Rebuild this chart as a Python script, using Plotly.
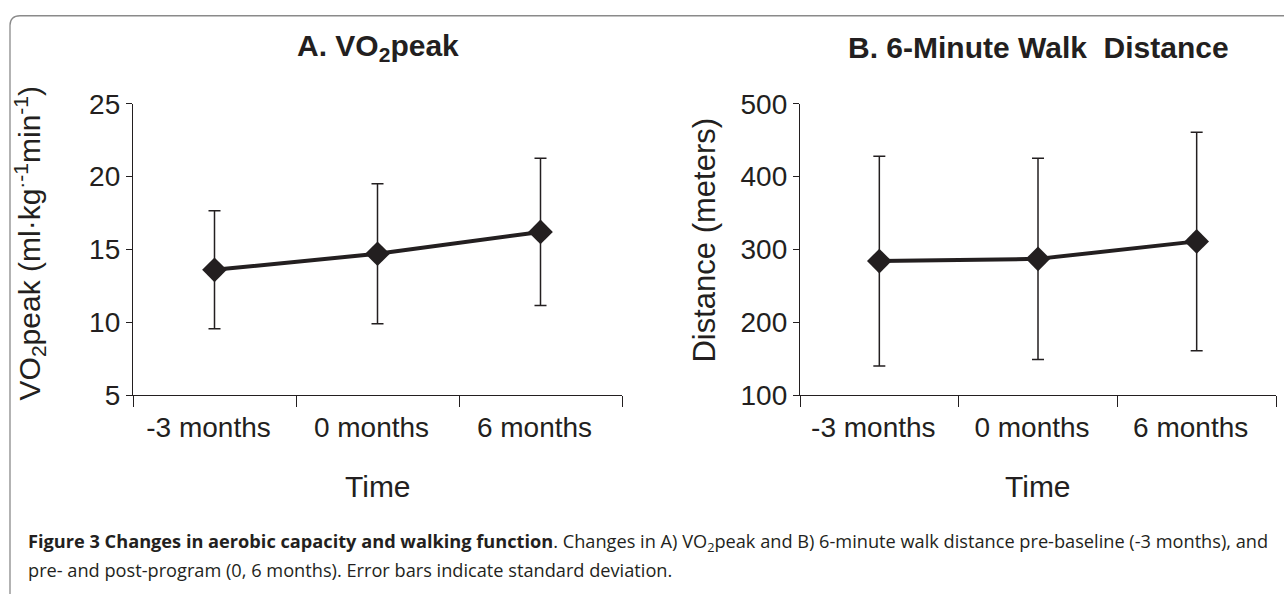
import plotly.graph_objects as go
from plotly.subplots import make_subplots

categories = ["-3 months", "0 months", "6 months"]
vo2_mean = [13.6, 14.7, 16.2]
vo2_sd = [4.05, 4.8, 5.05]
dist_mean = [284, 287, 311]
dist_sd = [144, 138, 150]
vo2_ticks = [5, 10, 15, 20, 25]
dist_ticks = [100, 200, 300, 400, 500]

W, H = 1284, 594
INK = "#231f20"
FONT = "Liberation Sans, Arial, sans-serif"

def px(x):
    return x / W

def py(y):
    return 1 - y / H

fig = make_subplots(rows=1, cols=2)

for col, mean, sd in [(1, vo2_mean, vo2_sd), (2, dist_mean, dist_sd)]:
    fig.add_trace(go.Scatter(
        x=categories, y=mean,
        mode="lines+markers",
        line=dict(color=INK, width=4),
        marker=dict(symbol="diamond", size=19, color=INK),
        error_y=dict(type="data", array=sd, symmetric=True, color=INK, thickness=1.5, width=6),
        showlegend=False,
    ), row=1, col=col)

common_x = dict(type="category", range=[-0.5, 2.5], tickson="boundaries", showline=True,
                linecolor=INK, linewidth=1.3, ticks="outside", ticklen=11, tickwidth=1.3,
                tickcolor=INK, showgrid=False, zeroline=False, ticklabelstandoff=7,
                ticklabelshift=-6,
                tickfont=dict(family=FONT, size=28, color=INK))
common_y = dict(showline=True, linecolor=INK, linewidth=1.3, ticks="outside", ticklen=6,
                tickwidth=1.3, tickcolor=INK, showgrid=False, zeroline=False,
                tickfont=dict(family=FONT, size=28, color=INK))

ydom = [py(401), py(93.6)]
fig.update_layout(
    xaxis=dict(domain=[px(133), px(622)], **common_x),
    xaxis2=dict(domain=[px(800), px(1276)], **common_x),
    yaxis=dict(domain=ydom, range=[5, 25], tickvals=vo2_ticks, **common_y),
    yaxis2=dict(domain=ydom, range=[100, 500], tickvals=dist_ticks, **common_y),
)

annots = [
    dict(x=px(378), y=py(34), text="<b>A. VO<sub>2</sub>peak</b>", font=dict(size=30)),
    dict(x=px(1038), y=py(34), text="<b>B. 6-Minute Walk  Distance</b>", font=dict(size=30)),
    dict(x=px(378), y=py(497), text="Time", font=dict(size=30)),
    dict(x=px(1038), y=py(497), text="Time", font=dict(size=30)),
    dict(x=px(30), y=py(241), text="VO<sub>2</sub>peak (ml·kg<sup>·-1</sup>min<sup>-1</sup>)",
         font=dict(size=30), textangle=-90),
    dict(x=px(705), y=py(238), text="Distance (meters)", font=dict(size=31), textangle=-90),
]
for a in annots:
    a.update(xref="paper", yref="paper", showarrow=False, xanchor="center", yanchor="middle")
    a["font"].update(family=FONT, color=INK)
    fig.add_annotation(**a)

CAP_FONT = "Open Sans, Noto Sans, sans-serif"
cap1 = ("<b>Figure 3 Changes in aerobic capacity and walking function</b>. Changes in A) "
        "VO<sub>2</sub>peak and B) 6-minute walk distance pre-baseline (-3 months), and")
cap2 = "pre- and post-program (0, 6 months). Error bars indicate standard deviation."
for txt, y in [(cap1, 557), (cap2, 585.5)]:
    fig.add_annotation(x=px(26), y=py(y), xref="paper", yref="paper", text=txt, showarrow=False,
                       xanchor="left", yanchor="middle",
                       font=dict(family=CAP_FONT, size=18.2, color=INK))

# rounded frame
r = 10
top = 0.8
x0, y0 = px(10), py(top)
path = (f"M {x0},-0.2 L {x0},{py(top + r)} Q {x0},{y0} {px(10 + r)},{y0} L 1.2,{y0}")
fig.add_shape(type="path", path=path, xref="paper", yref="paper",
              line=dict(color="#8a8a8a", width=1.3))

fig.update_layout(width=W, height=H, margin=dict(l=0, r=0, t=0, b=0),
                  paper_bgcolor="white", plot_bgcolor="white", showlegend=False)

fig.write_html("out.html", config={"displayModeBar": False},
               post_script="document.body.style.margin='0';document.body.style.overflow='hidden';")
